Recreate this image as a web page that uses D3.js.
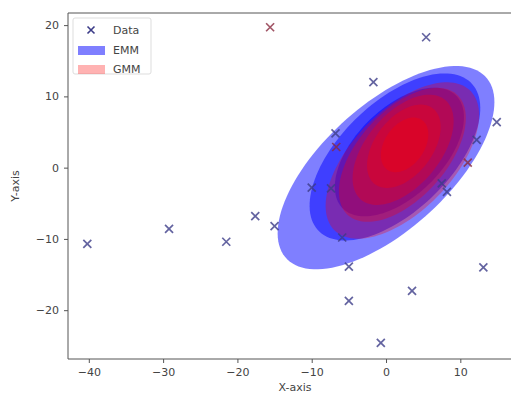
<!DOCTYPE html>
<html><head><meta charset="utf-8">
<script src="https://cdn.jsdelivr.net/npm/d3@7"></script>
<style>body{margin:0;background:#fff}svg{display:block}text{font-family:"DejaVu Sans",sans-serif}</style>
</head><body><svg id="c" width="511" height="398"></svg>
<script>
// data points
const xs = [-40.2,-29.2,-21.5,-17.6,-15.0,-15.6,5.4,-1.7,14.9,-6.8,-6.7,-10.0,-7.4,12.2,11.0,8.2,7.5,-5.9,-5.0,13.1,-5.0,3.5,-0.7];
const ys = [-10.7,-8.6,-10.4,-6.8,-8.2,19.7,18.3,12.0,6.4,4.8,2.9,-2.8,-2.9,3.9,0.7,-3.4,-2.2,-9.8,-13.9,-14.0,-18.7,-17.3,-24.6];
const grp = [0,0,0,0,0,1,0,0,0,0,1,0,0,0,1,0,0,0,0,0,0,0,0];
// ellipses: centre x, centre y, semi-major, semi-minor, angle (deg, data space)
const emmCx = [0.0, 1.2, 1.8];
const emmCy = [0.0, 1.5, 2.2];
const emmA  = [18.5, 14.6, 11.0];
const emmB  = [8.6, 7.5, 6.0];
const emmAng= [44, 46, 47];
const gmmCx = [2.2, 2.2, 2.3, 2.4, 2.5];
const gmmCy = [1.0, 1.8, 2.5, 3.0, 3.2];
const gmmA  = [13.4, 11.2, 9.0, 6.6, 4.2];
const gmmB  = [6.9, 6.0, 5.0, 3.9, 2.7];
const gmmAng= [48, 50, 52, 55, 58];
const xTicks = [-40,-30,-20,-10,0,10];
const yTicks = [20,10,0,-10,-20];
const legendLabels = ["Data","EMM","GMM"];

const svg = d3.select("#c");
const L=68, T=13, R=522, B=359;
const x = d3.scaleLinear().domain([-42.8,18.3]).range([L,R]);
const y = d3.scaleLinear().domain([-26.85,21.7]).range([B,T]);

function ellPath(cx,cy,a,b,ang){
  const th = ang*Math.PI/180, c=Math.cos(th), s=Math.sin(th);
  const pts = d3.range(0,361,3).map(t=>{const r=t*Math.PI/180;
    const u=a*Math.cos(r), v=b*Math.sin(r);
    return [cx+u*c-v*s, cy+u*s+v*c];});
  return d3.line().x(d=>x(d[0])).y(d=>y(d[1]))(pts)+"Z";
}
const g = svg.append("g");
emmCx.forEach((_,i)=>g.append("path").attr("d",ellPath(emmCx[i],emmCy[i],emmA[i],emmB[i],emmAng[i])).attr("fill","blue").attr("fill-opacity",0.5));
gmmCx.forEach((_,i)=>g.append("path").attr("d",ellPath(gmmCx[i],gmmCy[i],gmmA[i],gmmB[i],gmmAng[i])).attr("fill","red").attr("fill-opacity",0.3));

const mcol = ["#3c3c88","#8a2a40"];
const ms=4;
xs.forEach((v,i)=>{
  const px=x(v), py=y(ys[i]);
  g.append("path").attr("d",`M${px-ms},${py-ms}L${px+ms},${py+ms}M${px-ms},${py+ms}L${px+ms},${py-ms}`)
   .attr("stroke",mcol[grp[i]]).attr("stroke-width",1.7).attr("stroke-opacity",0.8);
});

// axes
const ax = svg.append("g").attr("transform",`translate(0,${B})`).call(d3.axisBottom(x).tickValues(xTicks).tickSize(4).tickPadding(5).tickFormat(d=>d<0?"\u2212"+(-d):d));
const ay = svg.append("g").attr("transform",`translate(${L},0)`).call(d3.axisLeft(y).tickValues(yTicks).tickSize(4).tickPadding(5).tickFormat(d=>d<0?"\u2212"+(-d):d));
[ax,ay].forEach(a=>{a.select(".domain").remove();a.selectAll("line").attr("stroke","#555");a.selectAll("text").attr("fill","#444").style("font-size","11px");});
svg.append("path").attr("d",`M${L},${B}V${T}H${R}V${B}Z`).attr("fill","none").attr("stroke","#555").attr("stroke-width",1);

svg.append("text").attr("x",(L+R)/2).attr("y",391).attr("text-anchor","middle").attr("fill","#444").style("font-size","11px").text("X-axis");
svg.append("text").attr("transform",`translate(19,${(T+B)/2}) rotate(-90)`).attr("text-anchor","middle").attr("fill","#444").style("font-size","11px").text("Y-axis");

// legend
const lg = svg.append("g");
lg.append("rect").attr("x",73).attr("y",18).attr("width",78).attr("height",56).attr("rx",2).attr("fill","#fff").attr("fill-opacity",0.8).attr("stroke","#ddd");
const ly=[30,50,69];
lg.append("path").attr("d",`M${91-3.5},${ly[0]-3.5}L${91+3.5},${ly[0]+3.5}M${91-3.5},${ly[0]+3.5}L${91+3.5},${ly[0]-3.5}`).attr("stroke",mcol[0]).attr("stroke-width",1.6);
lg.append("rect").attr("x",78).attr("y",ly[1]-4).attr("width",27).attr("height",9).attr("fill","blue").attr("fill-opacity",0.5);
lg.append("rect").attr("x",78).attr("y",ly[2]-4).attr("width",27).attr("height",9).attr("fill","red").attr("fill-opacity",0.3);
legendLabels.forEach((t,i)=>lg.append("text").attr("x",113).attr("y",ly[i]+4).attr("fill","#444").style("font-size","11px").text(t));
</script></body></html>
